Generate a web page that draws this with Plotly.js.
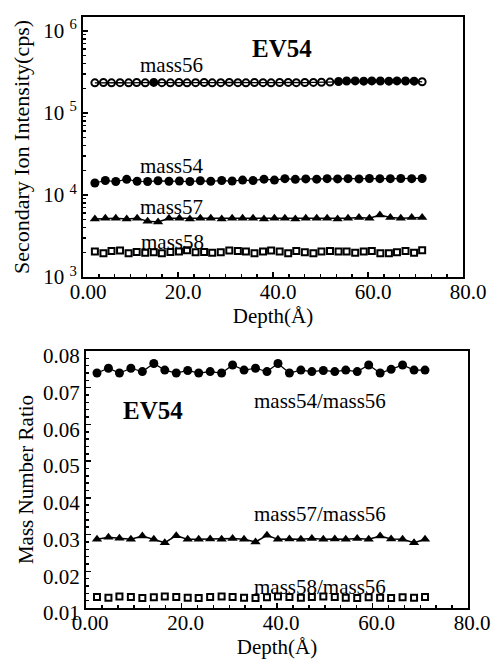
<!DOCTYPE html>
<html><head><meta charset="utf-8">
<script src="https://cdn.plot.ly/plotly-3.0.1.min.js"></script>
<style>html,body{margin:0;padding:0;background:#fff}#chart{width:491px;height:665px}</style>
</head><body><div id="chart"></div>
<script>
// Depth (Å) sample positions
const depthFine = [2.5, 4.3, 6.0, 7.8, 9.6, 11.3, 13.1, 14.9, 16.6, 18.4, 20.2, 21.9, 23.7, 25.5, 27.2, 29.0, 30.8, 32.6, 34.3, 36.1, 37.9, 39.6, 41.4, 43.2, 44.9, 46.7, 48.5, 50.2, 52.0, 53.8, 55.5, 57.3, 59.1, 60.8, 62.6, 64.4, 66.1, 67.9, 69.7, 71.4];
const depthCoarse = [2.5, 4.7, 6.9, 9.2, 11.4, 13.6, 15.8, 18.1, 20.3, 22.5, 24.7, 26.9, 29.2, 31.4, 33.6, 35.8, 38.1, 40.3, 42.5, 44.7, 46.9, 49.2, 51.4, 53.6, 55.8, 58.1, 60.3, 62.5, 64.7, 66.9, 69.2, 71.4];
const depthRatio = [2.3, 4.7, 7.0, 9.4, 11.8, 14.2, 16.5, 18.9, 21.3, 23.6, 26.0, 28.4, 30.7, 33.1, 35.5, 37.9, 40.2, 42.6, 45.0, 47.3, 49.7, 52.1, 54.4, 56.8, 59.2, 61.6, 63.9, 66.3, 68.7, 71.0];

// Secondary ion intensity (cps)
const mass56 = [2.33e5, 2.35e5, 2.33e5, 2.34e5, 2.33e5, 2.35e5, 2.33e5, 2.36e5, 2.34e5, 2.33e5, 2.35e5, 2.33e5, 2.34e5, 2.35e5, 2.33e5, 2.34e5, 2.36e5, 2.34e5, 2.33e5, 2.35e5, 2.34e5, 2.33e5, 2.35e5, 2.36e5, 2.34e5, 2.35e5, 2.36e5, 2.37e5, 2.38e5, 2.42e5, 2.45e5, 2.46e5, 2.44e5, 2.46e5, 2.45e5, 2.44e5, 2.46e5, 2.45e5, 2.44e5, 2.40e5];
const mass54 = [1.40e4, 1.50e4, 1.46e4, 1.55e4, 1.47e4, 1.46e4, 1.49e4, 1.47e4, 1.48e4, 1.46e4, 1.49e4, 1.47e4, 1.50e4, 1.48e4, 1.52e4, 1.50e4, 1.56e4, 1.52e4, 1.58e4, 1.55e4, 1.57e4, 1.56e4, 1.58e4, 1.57e4, 1.58e4, 1.57e4, 1.59e4, 1.58e4, 1.58e4, 1.59e4, 1.58e4, 1.59e4];
const mass57 = [5.1e3, 5.2e3, 5.2e3, 5.1e3, 5.2e3, 4.8e3, 4.7e3, 5.2e3, 5.2e3, 5.1e3, 5.2e3, 5.2e3, 5.1e3, 5.2e3, 5.2e3, 5.2e3, 5.1e3, 5.2e3, 5.2e3, 5.1e3, 5.2e3, 5.2e3, 5.2e3, 5.1e3, 5.2e3, 5.3e3, 5.2e3, 5.7e3, 5.3e3, 5.2e3, 5.3e3, 5.3e3];
const mass58 = [2.05e3, 1.95e3, 2.08e3, 2.10e3, 1.95e3, 2.02e3, 1.98e3, 2.00e3, 1.95e3, 2.02e3, 2.05e3, 2.12e3, 2.00e3, 2.02e3, 1.98e3, 2.00e3, 2.10e3, 2.08e3, 2.05e3, 1.95e3, 2.05e3, 2.10e3, 2.05e3, 1.95e3, 2.08e3, 2.00e3, 1.95e3, 2.05e3, 2.08e3, 2.05e3, 2.05e3, 1.98e3, 2.05e3, 2.08e3, 1.95e3, 1.95e3, 2.00e3, 2.08e3, 1.98e3, 2.12e3];

// Mass number ratios
const ratio54_56 = [0.0740, 0.0753, 0.0740, 0.0753, 0.0744, 0.0766, 0.0748, 0.0740, 0.0747, 0.0740, 0.0744, 0.0740, 0.0762, 0.0748, 0.0753, 0.0744, 0.0766, 0.0740, 0.0748, 0.0744, 0.0747, 0.0744, 0.0748, 0.0744, 0.0762, 0.0740, 0.0750, 0.0762, 0.0748, 0.0748];
const ratio57_56 = [0.0287, 0.0293, 0.0290, 0.0287, 0.0296, 0.0287, 0.0278, 0.0297, 0.0287, 0.0287, 0.0288, 0.0287, 0.0289, 0.0287, 0.0280, 0.0298, 0.0287, 0.0288, 0.0287, 0.0289, 0.0287, 0.0288, 0.0287, 0.0289, 0.0287, 0.0296, 0.0288, 0.0287, 0.0278, 0.0287];
const ratio58_56 = [0.0130, 0.0128, 0.0131, 0.0130, 0.0127, 0.0129, 0.0131, 0.0130, 0.0128, 0.0127, 0.0130, 0.0131, 0.0130, 0.0128, 0.0127, 0.0129, 0.0131, 0.0130, 0.0128, 0.0130, 0.0131, 0.0130, 0.0128, 0.0127, 0.0129, 0.0128, 0.0127, 0.0129, 0.0128, 0.0130];

// Ticks and labels
const depthTickVals = [0, 20, 40, 60, 80];
const depthTickText = ['0.00', '20.0', '40.0', '60.0', '80.0'];
const intensityTickVals = [1e3, 1e4, 1e5, 1e6];
const intensityTickText = ['10 <sup>3</sup>', '10 <sup>4</sup>', '10 <sup>5</sup>', '10 <sup>6</sup>'];
const ratioTickVals = [0.01, 0.02, 0.03, 0.04, 0.05, 0.06, 0.07, 0.08];
const ratioTickText = ['0.01', '0.02', '0.03', '0.04', '0.05', '0.06', '0.07', '0.08'];
const sampleName = 'EV54';

// ---- styling / construction ----
const FONT = 'Liberation Serif, Times New Roman, serif';
const black = '#000';

// minor ticks for log axis
const logMinor = [];
for (let d = 3; d <= 6; d++) for (let k = 2; k <= 9; k++) logMinor.push(k * Math.pow(10, d));

// mass56 symbols: mostly open, some filled
const sym56 = mass56.map((v, i) => (i === 7 || (i >= 29 && i <= 38)) ? 'circle' : 'circle-open');

function line(w){ return {color: black, width: w}; }

const traces = [
  {x: depthFine, y: mass56, xaxis: 'x', yaxis: 'y', mode: 'lines+markers', name: 'mass56',
   line: line(1.2), marker: {symbol: sym56, size: 7, color: black, line: {color: black, width: 2}}},
  {x: depthCoarse, y: mass54, xaxis: 'x', yaxis: 'y', mode: 'lines+markers', name: 'mass54',
   line: line(1.2), marker: {symbol: 'circle', size: 9, color: black}},
  {x: depthCoarse, y: mass57, xaxis: 'x', yaxis: 'y', mode: 'lines+markers', name: 'mass57',
   line: line(1.5), marker: {symbol: 'triangle-up', size: 9, color: black}},
  {x: depthFine, y: mass58, xaxis: 'x', yaxis: 'y', mode: 'markers', name: 'mass58',
   marker: {symbol: 'square-open', size: 6, color: black, line: {color: black, width: 2}}},
  {x: depthRatio, y: ratio54_56, xaxis: 'x2', yaxis: 'y2', mode: 'lines+markers', name: 'mass54/mass56',
   line: line(1.2), marker: {symbol: 'circle', size: 9, color: black}},
  {x: depthRatio, y: ratio57_56, xaxis: 'x2', yaxis: 'y2', mode: 'lines+markers', name: 'mass57/mass56',
   line: line(1.5), marker: {symbol: 'triangle-up', size: 9, color: black}},
  {x: depthRatio, y: ratio58_56, xaxis: 'x2', yaxis: 'y2', mode: 'markers', name: 'mass58/mass56',
   marker: {symbol: 'square-open', size: 6, color: black, line: {color: black, width: 2}}}
];

function xAxis(domain, anchor, shift){
  return {
    domain: domain, anchor: anchor, range: [0, 80],
    tickmode: 'array', tickvals: depthTickVals, ticktext: depthTickText,
    ticks: 'inside', ticklen: 5, tickwidth: 1.5, tickcolor: black,
    minor: {ticks: 'inside', ticklen: 3, tickwidth: 1.5, tickcolor: black, dtick: 20/6, showgrid: false},
    showline: true, mirror: true, linewidth: 2, linecolor: black,
    showgrid: false, zeroline: false, automargin: false,
    ticklabelshift: shift, ticklabelstandoff: -5, ticklabeloverflow: 'allow',
    tickfont: {family: FONT, size: 21, color: black},
    title: {text: 'Depth(Å)', font: {family: FONT, size: 21, color: black}, standoff: 0}
  };
}

const layout = {
  width: 491, height: 665,
  margin: {l: 0, r: 0, t: 0, b: 0},
  paper_bgcolor: '#fff', plot_bgcolor: '#fff',
  showlegend: false,
  font: {family: FONT, size: 21, color: black},
  xaxis: xAxis([83/491, 463/491], 'y', 5),
  xaxis2: xAxis([86/491, 468/491], 'y2', 4),
  yaxis: {
    domain: [1 - 277/665, 1 - 17/665], anchor: 'x', type: 'log', range: [3, 6.17],
    tickmode: 'array', tickvals: intensityTickVals, ticktext: intensityTickText,
    ticks: 'inside', ticklen: 5, tickwidth: 1.5, tickcolor: black,
    minor: {tickmode: 'array', tickvals: logMinor, ticks: 'inside', ticklen: 3, tickwidth: 1.5, tickcolor: black, showgrid: false},
    showline: true, mirror: true, linewidth: 2, linecolor: black,
    showgrid: false, zeroline: false, automargin: false, ticklabeloverflow: 'allow',
    tickfont: {family: FONT, size: 21, color: black},
    title: {text: 'Secondary Ion Intensity(cps)', font: {family: FONT, size: 22, color: black}, standoff: 8}
  },
  yaxis2: {
    domain: [1 - 608/665, 1 - 351/665], anchor: 'x2', range: [0.01, 0.08],
    tickmode: 'array', tickvals: ratioTickVals, ticktext: ratioTickText,
    ticks: 'inside', ticklen: 5, tickwidth: 1.5, tickcolor: black,
    minor: {ticks: 'inside', ticklen: 3, tickwidth: 1.5, tickcolor: black, dtick: 0.002, showgrid: false},
    showline: true, mirror: true, linewidth: 2, linecolor: black,
    showgrid: false, zeroline: false, automargin: false, ticklabeloverflow: 'allow',
    ticklabelshift: 5,
    tickfont: {family: FONT, size: 21, color: black},
    title: {text: 'Mass Number Ratio', font: {family: FONT, size: 21, color: black}, standoff: 4}
  },
  annotations: [
    {text: 'mass56', x: 18.7, y: 5.585, xref: 'x', yref: 'y'},
    {text: 'mass54', x: 18.7, y: 4.354, xref: 'x', yref: 'y'},
    {text: 'mass57', x: 18.7, y: 3.854, xref: 'x', yref: 'y'},
    {text: 'mass58', x: 18.9, y: 3.427, xref: 'x', yref: 'y'},
    {text: '<b>' + sampleName + '</b>', x: 41.9, y: 5.79, xref: 'x', yref: 'y', font: {family: FONT, size: 25, color: black}},
    {text: '<b>' + sampleName + '</b>', x: 14.0, y: 0.0637, xref: 'x2', yref: 'y2', font: {family: FONT, size: 25, color: black}},
    {text: 'mass54/mass56', x: 49.0, y: 0.0664, xref: 'x2', yref: 'y2'},
    {text: 'mass57/mass56', x: 49.0, y: 0.0356, xref: 'x2', yref: 'y2'},
    {text: 'mass58/mass56', x: 49.0, y: 0.0157, xref: 'x2', yref: 'y2'}
  ].map(a => Object.assign({showarrow: false, font: {family: FONT, size: 21, color: black}}, a))
};

Plotly.newPlot('chart', traces, layout, {staticPlot: true, displayModeBar: false});
</script></body></html>
